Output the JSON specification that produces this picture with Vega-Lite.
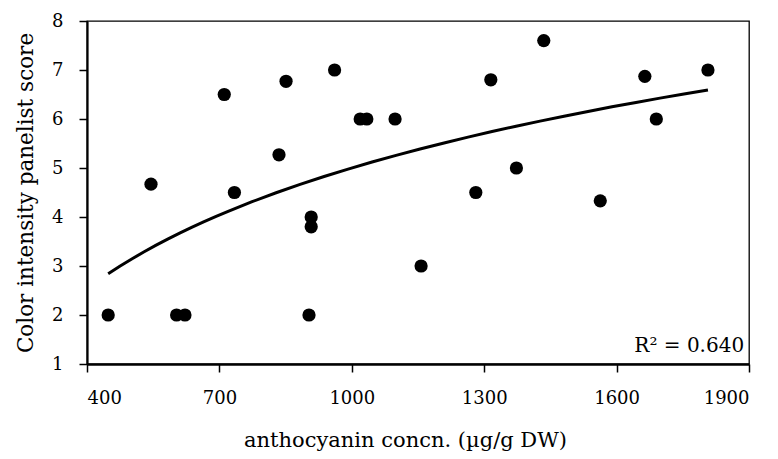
{
  "$schema": "https://vega.github.io/schema/vega-lite/v6.json",
  "width": 662,
  "height": 343,
  "autosize": {"type": "none"},
  "padding": {"left": 87, "top": 21, "right": 29, "bottom": 95},
  "background": "white",
  "config": {
    "view": {"stroke": "black", "strokeWidth": 1.3},
    "font": "DejaVu Serif",
    "axis": {
      "grid": false,
      "domainColor": "black",
      "tickColor": "black",
      "labelColor": "black",
      "titleColor": "black",
      "labelFont": "DejaVu Serif",
      "titleFont": "DejaVu Serif",
      "labelFontSize": 18,
      "titleFontSize": 21,
      "titleFontWeight": "normal",
      "tickSize": 8,
      "tickWidth": 1.5,
      "format": "d"
    }
  },
  "data": {
    "values": [
      {"conc": 448, "score": 2},
      {"conc": 545, "score": 4.67},
      {"conc": 603, "score": 2},
      {"conc": 622, "score": 2},
      {"conc": 711, "score": 6.5},
      {"conc": 734, "score": 4.5},
      {"conc": 835, "score": 5.27},
      {"conc": 851, "score": 6.77},
      {"conc": 903, "score": 2},
      {"conc": 908, "score": 4.0},
      {"conc": 908, "score": 3.8},
      {"conc": 961, "score": 7.0},
      {"conc": 1019, "score": 6.0},
      {"conc": 1034, "score": 6.0},
      {"conc": 1098, "score": 6.0},
      {"conc": 1157, "score": 3.0},
      {"conc": 1281, "score": 4.5},
      {"conc": 1315, "score": 6.8},
      {"conc": 1373, "score": 5.0},
      {"conc": 1435, "score": 7.6},
      {"conc": 1563, "score": 4.33},
      {"conc": 1664, "score": 6.87},
      {"conc": 1690, "score": 6.0},
      {"conc": 1807, "score": 7.0}
    ]
  },
  "encoding": {
    "x": {
      "field": "conc",
      "type": "quantitative",
      "scale": {"domain": [400, 1900], "nice": false, "zero": false},
      "axis": {
        "title": "anthocyanin concn. (µg/g DW)",
        "values": [400, 700, 1000, 1300, 1600, 1900],
        "domainWidth": 2.5,
        "labelPadding": 17,
        "titlePadding": 22,
        "titleX": 318
      }
    },
    "y": {
      "field": "score",
      "type": "quantitative",
      "scale": {"domain": [1, 8], "nice": false, "zero": false},
      "axis": {
        "title": "Color intensity panelist score",
        "titleFontSize": 21.5,
        "values": [1, 2, 3, 4, 5, 6, 7, 8],
        "domainWidth": 2.2,
        "labelPadding": 16,
        "titlePadding": 14
      }
    }
  },
  "layer": [
    {
      "mark": {"type": "circle", "size": 175, "color": "black", "opacity": 1}
    },
    {
      "transform": [{"regression": "score", "on": "conc", "method": "log"}],
      "mark": {"type": "line", "color": "black", "strokeWidth": 3}
    },
    {
      "data": {"values": [{"conc": 1889, "score": 1.17, "label": "R² = 0.640"}]},
      "mark": {"type": "text", "align": "right", "baseline": "bottom", "fontSize": 20, "color": "black", "font": "DejaVu Serif"},
      "encoding": {"text": {"field": "label"}}
    }
  ]
}
